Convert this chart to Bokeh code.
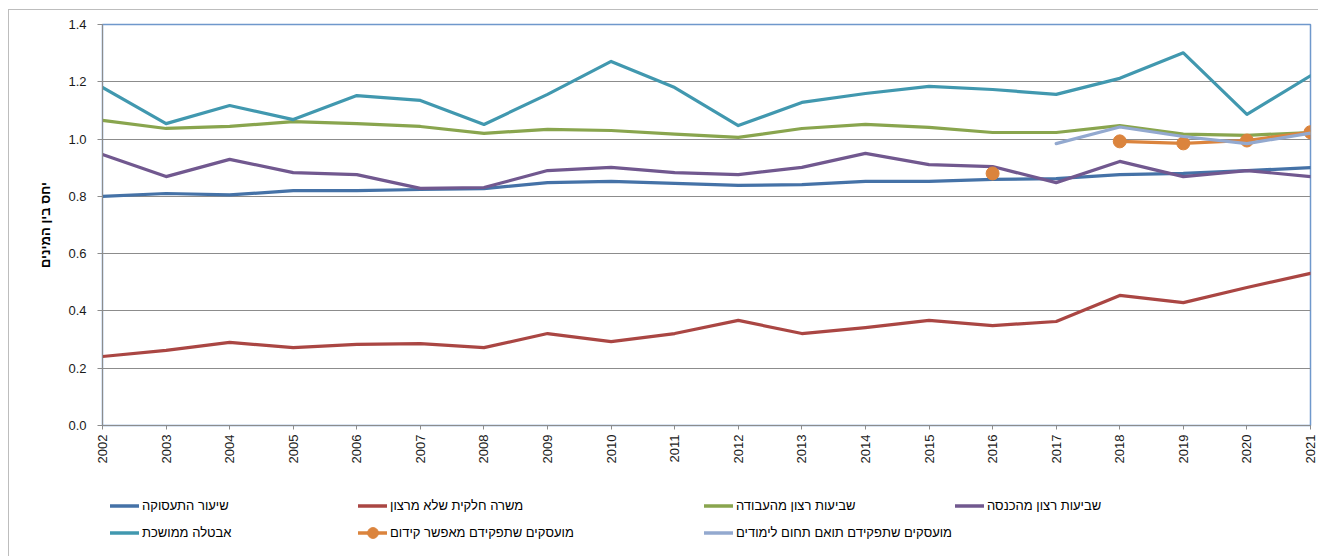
import math
from bokeh.plotting import figure
from bokeh.layouts import column
from bokeh.models import Range1d, FixedTicker, Legend, LegendItem, ColumnDataSource, NumeralTickFormatter
from bokeh.embed import file_html
from bokeh.resources import INLINE

years = list(range(2002, 2022))
employment_rate = [0.800, 0.810, 0.805, 0.820, 0.820, 0.824, 0.827, 0.848, 0.852, 0.845,
                   0.838, 0.841, 0.852, 0.852, 0.859, 0.862, 0.876, 0.880, 0.890, 0.900]
involuntary_part_time = [0.241, 0.262, 0.290, 0.272, 0.283, 0.286, 0.272, 0.321, 0.293, 0.321,
                         0.367, 0.321, 0.342, 0.367, 0.349, 0.363, 0.454, 0.429, 0.482, 0.531]
work_satisfaction = [1.065, 1.037, 1.044, 1.061, 1.054, 1.044, 1.020, 1.034, 1.030, 1.017,
                     1.006, 1.037, 1.051, 1.041, 1.023, 1.023, 1.047, 1.017, 1.013, 1.023]
income_satisfaction = [0.946, 0.869, 0.929, 0.883, 0.876, 0.828, 0.831, 0.890, 0.901, 0.883,
                       0.876, 0.901, 0.950, 0.911, 0.904, 0.848, 0.922, 0.869, 0.890, 0.869]
long_unemployment = [1.180, 1.054, 1.117, 1.068, 1.152, 1.135, 1.051, 1.156, 1.271, 1.180,
                     1.047, 1.128, 1.159, 1.184, 1.173, 1.156, 1.212, 1.301, 1.086, 1.221]
nan = float("nan")
advancement_jobs = [nan] * 14 + [0.880, nan, 0.992, 0.985, 0.995, 1.024]
matching_jobs = [nan] * 15 + [0.984, 1.042, 1.009, 0.984, 1.021]

names = ["שיעור התעסוקה", "משרה חלקית שלא מרצון", "שביעות רצון מהעבודה", "שביעות רצון מהכנסה",
         "אבטלה ממושכת", "מועסקים שתפקידם מאפשר קידום", "מועסקים שתפקידם תואם תחום לימודים"]
colors = ["#4572A7", "#AA4643", "#89A54E", "#71588F", "#4198AF", "#DB843D", "#93A9CF"]
y_label = "יחס בין המינים"
y_ticks = [0.0, 0.2, 0.4, 0.6, 0.8, 1.0, 1.2, 1.4]

FONT = "Liberation Sans"

p = figure(frame_width=1208, frame_height=401, min_border_left=93, min_border_top=14,
           min_border_right=8, min_border_bottom=45,
           x_range=Range1d(2002, 2021), y_range=Range1d(0, 1.4),
           output_backend="svg", toolbar_location=None,
           background_fill_color="white", border_fill_color="white")
p.outline_line_color = "#6F98CC"
p.outline_line_width = 1.5

p.xgrid.visible = False
p.ygrid.ticker = FixedTicker(ticks=y_ticks)
p.ygrid.grid_line_color = "#8C8C8C"
p.ygrid.grid_line_width = 1

p.yaxis.ticker = FixedTicker(ticks=y_ticks)
p.yaxis.formatter = NumeralTickFormatter(format="0.0")
p.yaxis.axis_line_color = "#8C8C8C"
p.yaxis.major_tick_line_color = "#8C8C8C"
p.yaxis.major_tick_out = 5
p.yaxis.major_tick_in = 0
p.yaxis.minor_tick_line_color = None
p.yaxis.major_label_standoff = 11
p.yaxis.major_label_text_font = FONT
p.yaxis.major_label_text_font_size = "13px"
p.yaxis.major_label_text_color = "#1a1a1a"
p.yaxis.axis_label = y_label
p.yaxis.axis_label_text_font = FONT
p.yaxis.axis_label_text_font_size = "13px"
p.yaxis.axis_label_text_font_style = "bold"
p.yaxis.axis_label_text_color = "#000000"
p.yaxis.axis_label_standoff = 12

p.xaxis.ticker = FixedTicker(ticks=years)
p.xaxis.axis_line_color = "#8C8C8C"
p.xaxis.major_tick_line_color = "#8C8C8C"
p.xaxis.major_tick_out = 4
p.xaxis.major_tick_in = 0
p.xaxis.minor_tick_line_color = None
p.xaxis.major_label_orientation = math.pi / 2
p.xaxis.major_label_standoff = 5
p.xaxis.major_label_text_font = FONT
p.xaxis.major_label_text_font_size = "13px"
p.xaxis.major_label_text_color = "#1a1a1a"

series = [employment_rate, involuntary_part_time, work_satisfaction, income_satisfaction,
          long_unemployment, advancement_jobs, matching_jobs]
sources = []
for name, vals, col in zip(names, series, colors):
    src = ColumnDataSource(dict(x=years, y=vals))
    sources.append(src)
    p.line("x", "y", source=src, line_color=col, line_width=3.2, line_join="round", line_cap="round")
    if name == names[5]:
        p.scatter("x", "y", source=src, size=13, fill_color=col, line_color=col)

# legend strip (separate canvas so the legend is not clipped); its range excludes the data,
# so its renderers only serve as legend samples
lf = figure(width=1309, height=86, min_border=0, min_border_left=0, min_border_right=0,
            min_border_top=0, min_border_bottom=0,
            x_axis_type=None, y_axis_type=None, x_range=Range1d(0, 1), y_range=Range1d(0, 1),
            output_backend="svg", toolbar_location=None,
            background_fill_color="white", border_fill_color="white")
lf.outline_line_color = None
lf.grid.visible = False
items = []
for name, col, src in zip(names, colors, sources):
    rs = [lf.line("x", "y", source=src, line_color=col, line_width=3.5, line_cap="round")]
    if name == names[5]:
        rs.append(lf.scatter("x", "y", source=src, size=12, fill_color=col, line_color=col))
    items.append(LegendItem(label=name, renderers=rs))

groups = [[items[0], items[4]], [items[1], items[5]], [items[2], items[6]], [items[3]]]
xoffs = [8, 256, 602, 853]
for its, xo in zip(groups, xoffs):
    lg = Legend(items=its, location=(xo, 10 if len(its) == 2 else 37), orientation="vertical",
                padding=0, margin=0, spacing=0, glyph_width=29, glyph_height=27,
                label_height=27, label_standoff=3,
                label_text_font=FONT, label_text_font_size="13px", label_text_color="#000000",
                border_line_color=None, background_fill_alpha=0)
    lf.add_layout(lg, "center")

layout = column(p, lf, spacing=0)
layout.styles = {"margin-left": "8px", "margin-top": "9px",
                 "border-left": "1px solid #BDBDBD", "border-top": "1px solid #BDBDBD"}

open("out.html", "w").write(file_html(layout, INLINE))
